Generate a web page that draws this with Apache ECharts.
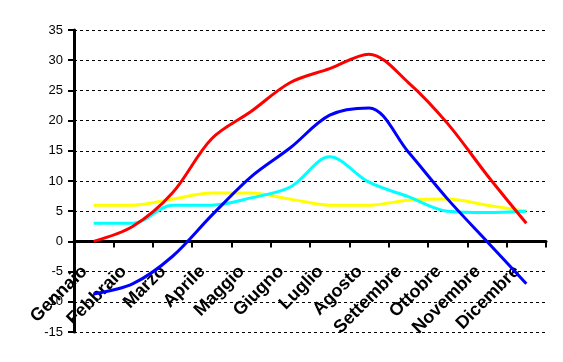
<!DOCTYPE html>
<html>
<head>
<meta charset="utf-8">
<script src="https://cdn.jsdelivr.net/npm/echarts@6/dist/echarts.min.js"></script>
<style>
html,body{margin:0;padding:0;background:#fff;}
#chart{width:563px;height:362px;}
</style>
</head>
<body>
<div id="chart"></div>
<script>
var months = ['Gennaio','Febbraio','Marzo','Aprile','Maggio','Giugno','Luglio','Agosto','Settembre','Ottobre','Novembre','Dicembre'];
var redSeries    = [0, 2.5, 8, 17, 21.5, 26.3, 28.6, 31, 26.3, 19.5, 11, 3];
var blueSeries   = [-8.7, -7, -2.5, 4.3, 10.7, 15.5, 20.9, 22.1, 14.8, 7, 0, -7];
var cyanSeries   = [3, 3, 6, 6, 7.2, 9, 14, 9.8, 7.4, 5, 4.8, 5];
var yellowSeries = [6, 6, 7, 8, 8, 7, 6, 6, 6.8, 7, 6, 5];
var yMin = -15, yMax = 35, yStep = 5;

var gridTop = 30, gridBottom = 30, chartH = 362;
var plotH = chartH - gridTop - gridBottom;
// distance from grid bottom edge up to the value 0 line
var zeroOffset = -plotH * (0 - yMin) / (yMax - yMin);

var chart = echarts.init(document.getElementById('chart'), null, {renderer:'canvas'});
function line(data, color){
  return {type:'line', data:data, smooth:0.33, showSymbol:false, symbol:'none',
    lineStyle:{color:color, width:3}, itemStyle:{color:color}, z:3};
}
chart.setOption({
  animation:false,
  backgroundColor:'#ffffff',
  grid:{left:74, right:17, top:gridTop, bottom:gridBottom, containLabel:false, outerBoundsMode:'none'},
  xAxis:{
    type:'category', data:months, boundaryGap:true, position:'bottom', offset:zeroOffset,
    axisLine:{onZero:false, lineStyle:{color:'#000', width:3}},
    axisTick:{show:true, inside:false, length:6, lineStyle:{color:'#000', width:2}},
    axisLabel:{rotate:45, margin:18, padding:[0,13,0,0], interval:0, hideOverlap:false,
      fontFamily:'Liberation Sans, Arial, sans-serif', fontWeight:'bold', fontSize:18, color:'#000'},
    splitLine:{show:false}
  },
  yAxis:{
    type:'value', min:yMin, max:yMax, interval:yStep,
    axisLine:{show:true, onZero:false, lineStyle:{color:'#000', width:3}},
    axisTick:{show:true, length:6, lineStyle:{color:'#000', width:2}},
    axisLabel:{margin:11, fontFamily:'Liberation Sans, Arial, sans-serif', fontSize:13, color:'#000'},
    splitLine:{show:true, lineStyle:{color:'#000', width:1, type:[3,3]}}
  },
  series:[
    line(yellowSeries,'#ffff00'),
    line(cyanSeries,'#00ffff'),
    line(redSeries,'#ff0000'),
    line(blueSeries,'#0000ff')
  ]
});
</script>
</body>
</html>
